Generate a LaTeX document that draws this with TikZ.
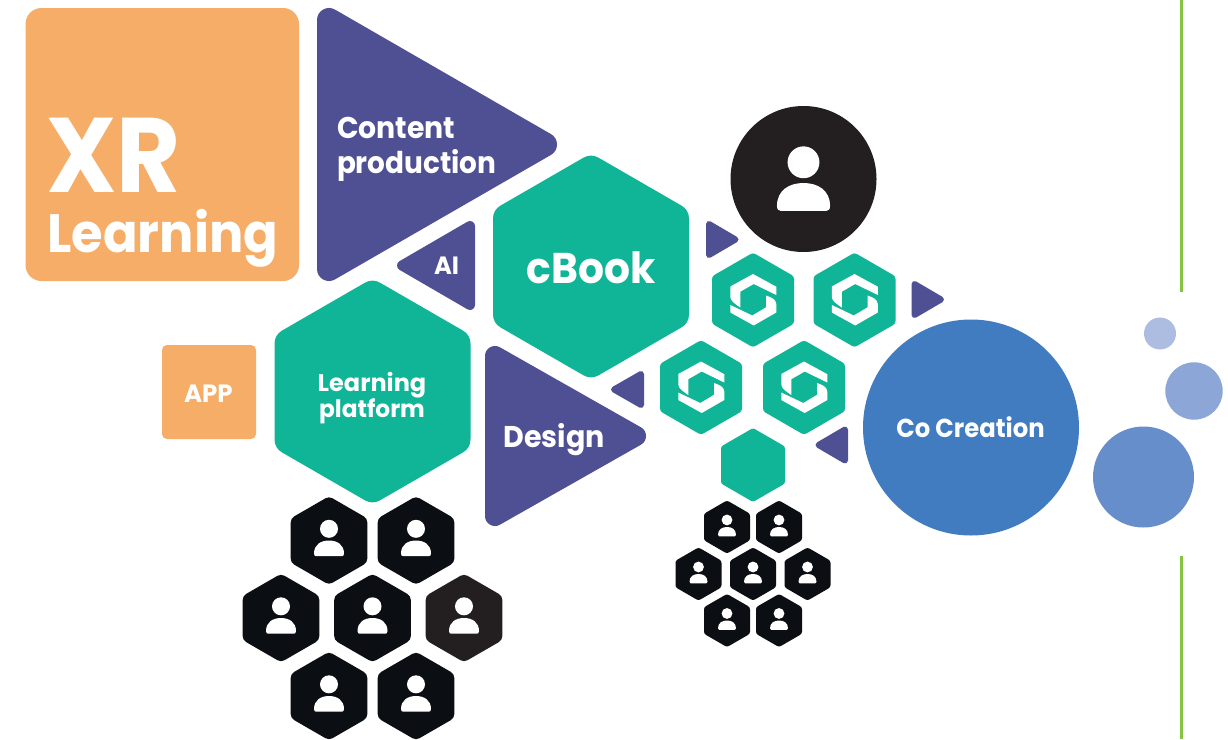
\documentclass[tikz,border=0pt]{standalone}
\usepackage{fontspec}
\setmainfont{Poppins}
\definecolor{purp}{HTML}{4F5094}
\definecolor{teal2}{HTML}{10B597}
\definecolor{orng}{HTML}{F5AD68}
\definecolor{ink}{HTML}{0B0E12}
\definecolor{ink2}{HTML}{231F20}
\definecolor{cblue}{HTML}{407CBF}
\definecolor{b1}{HTML}{ADBDE2}
\definecolor{b2}{HTML}{8BA6D7}
\definecolor{b3}{HTML}{668ECB}
\definecolor{lime}{HTML}{84C441}
\newcommand{\fs}[2]{\fontsize{#1}{#1}\selectfont\addfontfeature{FakeStretch=#2}}
\newcommand{\hexa}[5]{% cx cy halfwidth r colour
  \pgfmathsetmacro{\Rr}{(#3-#4)/0.866025}
  \pgfmathsetmacro{\Rh}{\Rr*0.5}
  \pgfmathsetmacro{\Rw}{\Rr*0.866025}
  \begin{scope}[shift={(#1,#2)}]
  \filldraw[blob,draw=#5,fill=#5,line width=#4*2pt]
    (0,-\Rr) -- (\Rw,-\Rh) -- (\Rw,\Rh) -- (0,\Rr) -- (-\Rw,\Rh) -- (-\Rw,-\Rh) -- cycle;
  \end{scope}}
\newcommand{\triR}[6]{% xl xr yt yb r colour
  \pgfmathsetmacro{\Ta}{#1+#5}\pgfmathsetmacro{\Tb}{#2-#5}
  \pgfmathsetmacro{\Tc}{#3+#5}\pgfmathsetmacro{\Td}{#4-#5}
  \pgfmathsetmacro{\Te}{(#3+#4)/2}
  \filldraw[blob,draw=#6,fill=#6,line width=#5*2pt] (\Ta,\Tc) -- (\Tb,\Te) -- (\Ta,\Td) -- cycle;}
\newcommand{\triL}[6]{%
  \pgfmathsetmacro{\Ta}{#1+#5}\pgfmathsetmacro{\Tb}{#2-#5}
  \pgfmathsetmacro{\Tc}{#3+#5}\pgfmathsetmacro{\Td}{#4-#5}
  \pgfmathsetmacro{\Te}{(#3+#4)/2}
  \filldraw[blob,draw=#6,fill=#6,line width=#5*2pt] (\Tb,\Tc) -- (\Ta,\Te) -- (\Tb,\Td) -- cycle;}
\newcommand{\persn}[3]{% cx cy scale
  \begin{scope}[shift={(#1,#2)},scale=#3]
  \fill[white] (0,-11.7) circle (9);
  \fill[white] (-15,13) .. controls (-15,4) and (-8,0) .. (0,0) .. controls (8,0) and (15,4) .. (15,13)
    .. controls (15,15) and (14,15.7) .. (13,15.7) -- (-13,15.7) .. controls (-14,15.7) and (-15,15) .. (-15,13) -- cycle;
  \end{scope}}
\newcommand{\phex}[5]{% cx cy hw r colour
  \hexa{#1}{#2}{#3}{#4}{#5}\persn{#1}{#2}{#3/38.3}}
\newcommand{\logohex}[2]{%
  \hexa{#1}{#2}{41}{5}{teal2}
  \begin{scope}[shift={(#1,#2)}]
  \fill[white] (-12.7,7.5) .. controls (-17,4.5) and (-22.7,1) .. (-22.7,-3) -- (-22.7,-13.5) -- (0,-26) -- (23.3,-13.3) -- (23.3,-5) -- (0.7,-16) -- (-12.7,-8.3) -- cycle;
  \fill[white] (13,-4.5) .. controls (17,-3) and (23.3,-1) .. (23.3,4) -- (23.3,12.5) -- (0.7,25.5) -- (-22.7,12.5) -- (-22.7,5) -- (-0.7,15.5) -- (13,7.3) -- cycle;
  \end{scope}}
\begin{document}
\begin{tikzpicture}[x=1pt,y=-1pt,
  blob/.style={line join=round},
  lbl/.style={inner sep=0pt,outer sep=0pt,text=white,font=\bfseries,anchor=base west}]
\useasboundingbox (0,0) rectangle (1228,739);
\fill[white] (0,0) rectangle (1228,739);
% side lines
\fill[lime] (1179.5,0) rectangle (1182.5,292);
\fill[lime] (1179.5,556) rectangle (1182.5,739);
% orange
\fill[orng,rounded corners=16pt] (25.5,8) rectangle (299,281);
\fill[orng,rounded corners=5pt] (162,345) rectangle (256,439);
% purple
\triR{317}{557}{8}{281}{12}{purp}
\triL{397}{475}{221}{310}{5}{purp}
\triR{485}{646}{346}{526}{10}{purp}
\triR{706}{738.5}{221}{258}{3}{purp}
\triR{911.5}{944}{281}{318}{3}{purp}
\triL{611}{644}{371}{408}{3}{purp}
\triL{815.5}{848}{426.5}{463.5}{3}{purp}
% teal
\hexa{591}{266.5}{98}{15}{teal2}
\hexa{372.5}{391.5}{98}{15}{teal2}
\hexa{753}{465}{32}{4}{teal2}
\logohex{753}{300}
\logohex{854.5}{300}
\logohex{701}{387.5}
\logohex{804}{387.5}
% circles
\fill[ink2] (803.5,179) circle (73);
\persn{803.5}{183}{1.77}
\fill[cblue] (971,427.5) circle (108);
\fill[b1] (1160,333.5) circle (16);
\fill[b2] (1194,391) circle (28.7);
\fill[b3] (1143.5,477) circle (50.5);
% big person hexes
\phex{329}{540.5}{38.3}{7}{ink}
\phex{416}{540.5}{38.3}{7}{ink}
\phex{281}{618}{38.3}{7}{ink}
\phex{372.5}{618}{38.3}{7}{ink}
\phex{464}{618}{38.3}{7}{ink2}
\phex{329}{696}{38.3}{7}{ink}
\phex{416}{696}{38.3}{7}{ink}
% small person hexes
\phex{727}{527}{23}{4}{ink}
\phex{779}{527}{23}{4}{ink}
\phex{698.5}{574}{23}{4}{ink}
\phex{753}{574}{23}{4}{ink}
\phex{807.5}{574}{23}{4}{ink}
\phex{727}{620.5}{23}{4}{ink}
\phex{779}{620.5}{23}{4}{ink}
% labels
\node[lbl] (xr) at (46.5,192.7) {\fs{106}{0.93}XR};
\node[lbl] (learn) at (47.5,252.2) {\fs{54}{0.945}Learning};
\node[lbl] (content) at (337,138.7) {\fs{30}{0.944}Content};
\node[lbl] (prod) at (337,173.7) {\fs{30}{0.93}production};
\node[lbl] (ai) at (434,274) {\fs{25}{0.97}AI};
\node[lbl] (cbook) at (526.5,283.5) {\fs{43}{0.95}cBook};
\node[lbl] (app) at (184,402) {\fs{25}{0.98}APP};
\node[lbl,anchor=base] (lp1) at (372,391) {\fs{24}{1}Learning};
\node[lbl,anchor=base] (lp2) at (372,417) {\fs{24}{0.97}platform};
\node[lbl] (design) at (503.5,447) {\fs{30}{0.95}Design};
\node[lbl,anchor=base] (cocr) at (970.5,437) {\fs{26}{0.935}Co Creation};
\end{tikzpicture}
\end{document}
